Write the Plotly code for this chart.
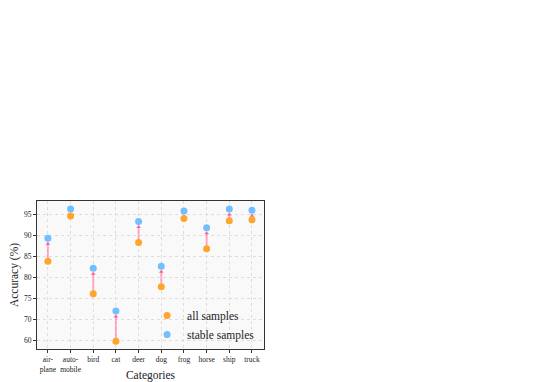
import plotly.graph_objects as go

categories = ["air-<br>plane", "auto-<br>mobile", "bird", "cat", "deer", "dog", "frog", "horse", "ship", "truck"]
all_samples = [83.9, 94.7, 76.1, 59.5, 88.4, 77.8, 94.1, 86.9, 93.6, 93.8]
stable_samples = [89.4, 96.4, 82.2, 72.0, 93.4, 82.7, 95.9, 91.9, 96.4, 96.1]
y_ticks = [60, 70, 75, 80, 85, 90, 95]

SERIF = "Liberation Serif, Times New Roman, serif"
HEAD_GAP = 1.3  # arrow stops a little short of the stable marker


def warp(v):
    # axis is compressed below 70 (60 sits one tick step below 70)
    return v if v >= 70 else 70 - (70 - v) / 2


xs = list(range(len(categories)))
ya = [warp(v) for v in all_samples]
ys = [warp(v) for v in stable_samples]

line_x, line_y = [], []
for x, a, s in zip(xs, ya, ys):
    line_x += [x, x, None]
    line_y += [a, s - HEAD_GAP, None]

fig = go.Figure()
fig.add_trace(go.Scatter(
    x=line_x, y=line_y, mode="lines", showlegend=False, hoverinfo="skip",
    line=dict(color="rgba(255,120,170,0.6)", width=2),
))
fig.add_trace(go.Scatter(
    x=xs, y=[s - HEAD_GAP for s in ys], mode="markers", showlegend=False, hoverinfo="skip",
    marker=dict(symbol="triangle-up", size=4, color="#ff5c9d"),
))
fig.add_trace(go.Scatter(
    x=xs, y=ys, mode="markers", name="stable samples", legendrank=2,
    marker=dict(color="#72bfff", size=7),
))
fig.add_trace(go.Scatter(
    x=xs, y=ya, mode="markers", name="all samples", legendrank=1,
    marker=dict(color="#ffa52b", size=7),
))

axis_common = dict(
    showgrid=True, gridcolor="#dddddd", griddash="dot", gridwidth=1,
    showline=True, linecolor="#333333", linewidth=1, mirror=True,
    ticks="outside", ticklen=3, tickcolor="#333333",
    tickfont=dict(family=SERIF, size=7.5, color="#222222"),
    zeroline=False, automargin=False,
)
fig.update_xaxes(
    tickvals=xs, ticktext=categories, range=[-0.48, 9.53],
    title=dict(text="Categories", font=dict(family=SERIF, size=11.5, color="#222222"), standoff=6),
    **axis_common,
)
fig.update_yaxes(
    tickvals=[warp(t) for t in y_ticks], ticktext=[str(t) for t in y_ticks], range=[62.9, 98.3],
    title=dict(text="Accuracy (%)", font=dict(family=SERIF, size=11.5, color="#222222"), standoff=4),
    **axis_common,
)
# the page adds an 8px body margin, so the figure is 8px smaller than the window
fig.update_layout(
    width=529, height=374,
    margin=dict(l=29, r=273, t=193, b=33),
    plot_bgcolor="#f9f9f9", paper_bgcolor="white",
    font=dict(family=SERIF, color="#222222"),
    legend=dict(
        x=0.485, y=0.0, xanchor="left", yanchor="bottom",
        bgcolor="rgba(0,0,0,0)", font=dict(family=SERIF, size=11.5, color="#222222"),
        itemsizing="trace", tracegroupgap=0,
    ),
)
fig.write_html("out.html")
